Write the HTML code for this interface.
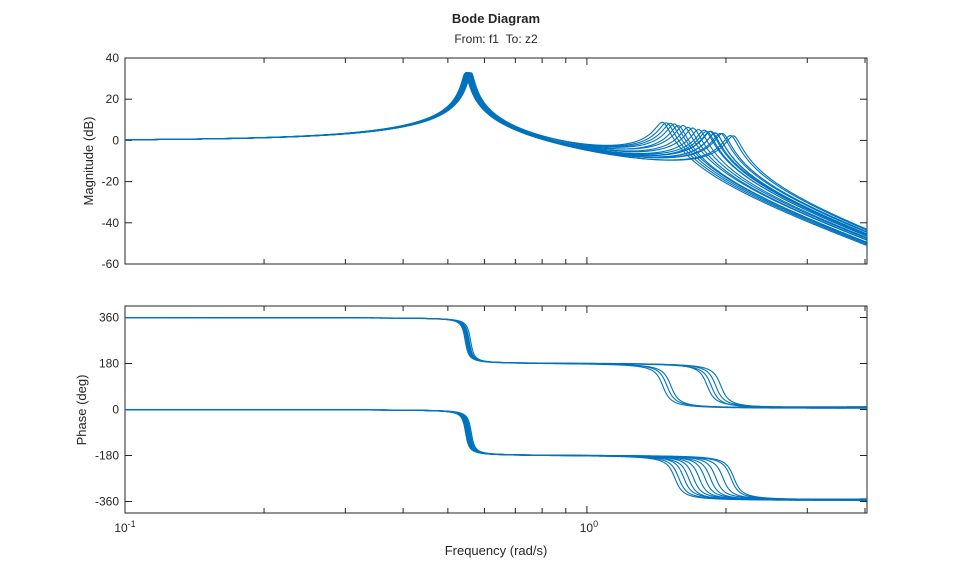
<!DOCTYPE html>
<html><head><meta charset="utf-8"><style>
body{margin:0;background:#fff;font-family:"Liberation Sans",Arial,sans-serif;}
svg text{font-family:"Liberation Sans",Arial,sans-serif;fill:#262626;}
</style></head><body>
<svg id="chart" width="959" height="577" xmlns="http://www.w3.org/2000/svg">
<text x="496" y="23" text-anchor="middle" font-size="13" font-weight="bold">Bode Diagram</text>
<text x="496" y="43" text-anchor="middle" font-size="12">From: f1 &#160;To: z2</text>
<text x="496" y="555" text-anchor="middle" font-size="13">Frequency (rad/s)</text>
<text transform="translate(93,161) rotate(-90)" text-anchor="middle" font-size="13">Magnitude (dB)</text>
<text transform="translate(86,410) rotate(-90)" text-anchor="middle" font-size="13">Phase (deg)</text>
<g id="mag"></g>
<g id="ph"></g>
</svg>
<script>
// sample parameters
const w1Vals = [0.548,0.552,0.556,0.545,0.560,0.550,0.554,0.558,0.547,0.562,0.551,0.555,0.549,0.557,0.553,0.546,0.559,0.552,0.556];
const w2Vals = [1.46,1.49,1.52,1.82,1.86,1.90,1.95,1.55,1.58,1.62,1.66,1.70,1.75,1.80,1.85,1.90,1.97,2.05,2.08];
const wrapVals = [1,1,1,1,1,1,1,0,0,0,0,0,0,0,0,0,0,0,0];
const leadVals = [60,30,45,25,80,35,50,70,40,28,90,33,55,38,65,30,48,75,42];
const zeta1 = 0.013, zeta2 = 0.03;
const magTicks = [40,20,0,-20,-40,-60];
const phTicks = [360,180,0,-180,-360];
const X0=125,X1=867,WMIN=0.1,WMAX=4.04;
const MAG={top:58,bot:264,min:-60,max:40};
const PH={top:306,bot:513,min:-405,max:405};
const NS="http://www.w3.org/2000/svg";
const xs=w=>X0+(Math.log10(w)-Math.log10(WMIN))/(Math.log10(WMAX)-Math.log10(WMIN))*(X1-X0);
const ys=(ax,v)=>ax.bot-(v-ax.min)/(ax.max-ax.min)*(ax.bot-ax.top);
function el(t,a,p){const e=document.createElementNS(NS,t);for(const k in a)e.setAttribute(k,a[k]);p.appendChild(e);return e;}
function frame(g,ax,ticks,name){
  const r=el('rect',{x:X0,y:ax.top,width:X1-X0,height:ax.bot-ax.top,fill:'none',stroke:'#262626','stroke-width':1},g);
  
  
  ticks.forEach(v=>{const y=ys(ax,v);
    el('line',{x1:X0,x2:X0+7,y1:y,y2:y,stroke:'#262626'},g);
    el('line',{x1:X1,x2:X1-7,y1:y,y2:y,stroke:'#262626'},g);
    const t=el('text',{x:X0-6,y:y+4,'text-anchor':'end','font-size':12},g);t.textContent=v;
    
    
  });
  const xt=[0.2,0.3,0.4,0.5,0.6,0.7,0.8,0.9,1,2,3,4];
  xt.forEach(w=>{const x=xs(w);const L=(w===1)?7:5;
    el('line',{x1:x,x2:x,y1:ax.bot,y2:ax.bot-L,stroke:'#262626'},g);
    el('line',{x1:x,x2:x,y1:ax.top,y2:ax.top+L,stroke:'#262626'},g);});
}
const gm=document.getElementById('mag'),gp=document.getElementById('ph');
frame(gm,MAG,magTicks,'magnitude');frame(gp,PH,phTicks,'phase');
function lbl(x,y,base,exp,name){const t=el('text',{x:x,y:y,'text-anchor':'middle','font-size':12},document.getElementById('chart'));
  t.textContent=base;const s=el('tspan',{dy:-5,'font-size':9},t);s.textContent=exp;
  
  }
lbl(xs(0.1),532,'10','-1','x-tick-label-0.1');lbl(xs(1)+2,532,'10','0','x-tick-label-1');
function fac(w,wn,z){const re=1-(w/wn)**2,im=2*z*w/wn;return [Math.hypot(re,im),Math.atan2(im,re)*180/Math.PI];}
const N=2500;
for(let i=0;i<w1Vals.length;i++){
  let dm='',dp='';
  for(let k=0;k<=N;k++){
    const w=WMIN*Math.pow(WMAX/WMIN,k/N);
    const a=fac(w,w1Vals[i],zeta1),b=fac(w,w2Vals[i],zeta2);
    const m=-20*Math.log10(a[0]*b[0]);
    let p=-(a[1]+b[1])+Math.atan(w/leadVals[i])*180/Math.PI+(wrapVals[i]?360:0);
    const x=xs(w).toFixed(2);
    dm+=(k?'L':'M')+x+','+ys(MAG,m).toFixed(2);
    dp+=(k?'L':'M')+x+','+ys(PH,p).toFixed(2);
  }
  const pm=el('path',{d:dm,fill:'none',stroke:'#0072BD','stroke-width':1.1},gm);
  
  
  const pp=el('path',{d:dp,fill:'none',stroke:'#0072BD','stroke-width':1.1},gp);
  
  
}
</script>
</body></html>
